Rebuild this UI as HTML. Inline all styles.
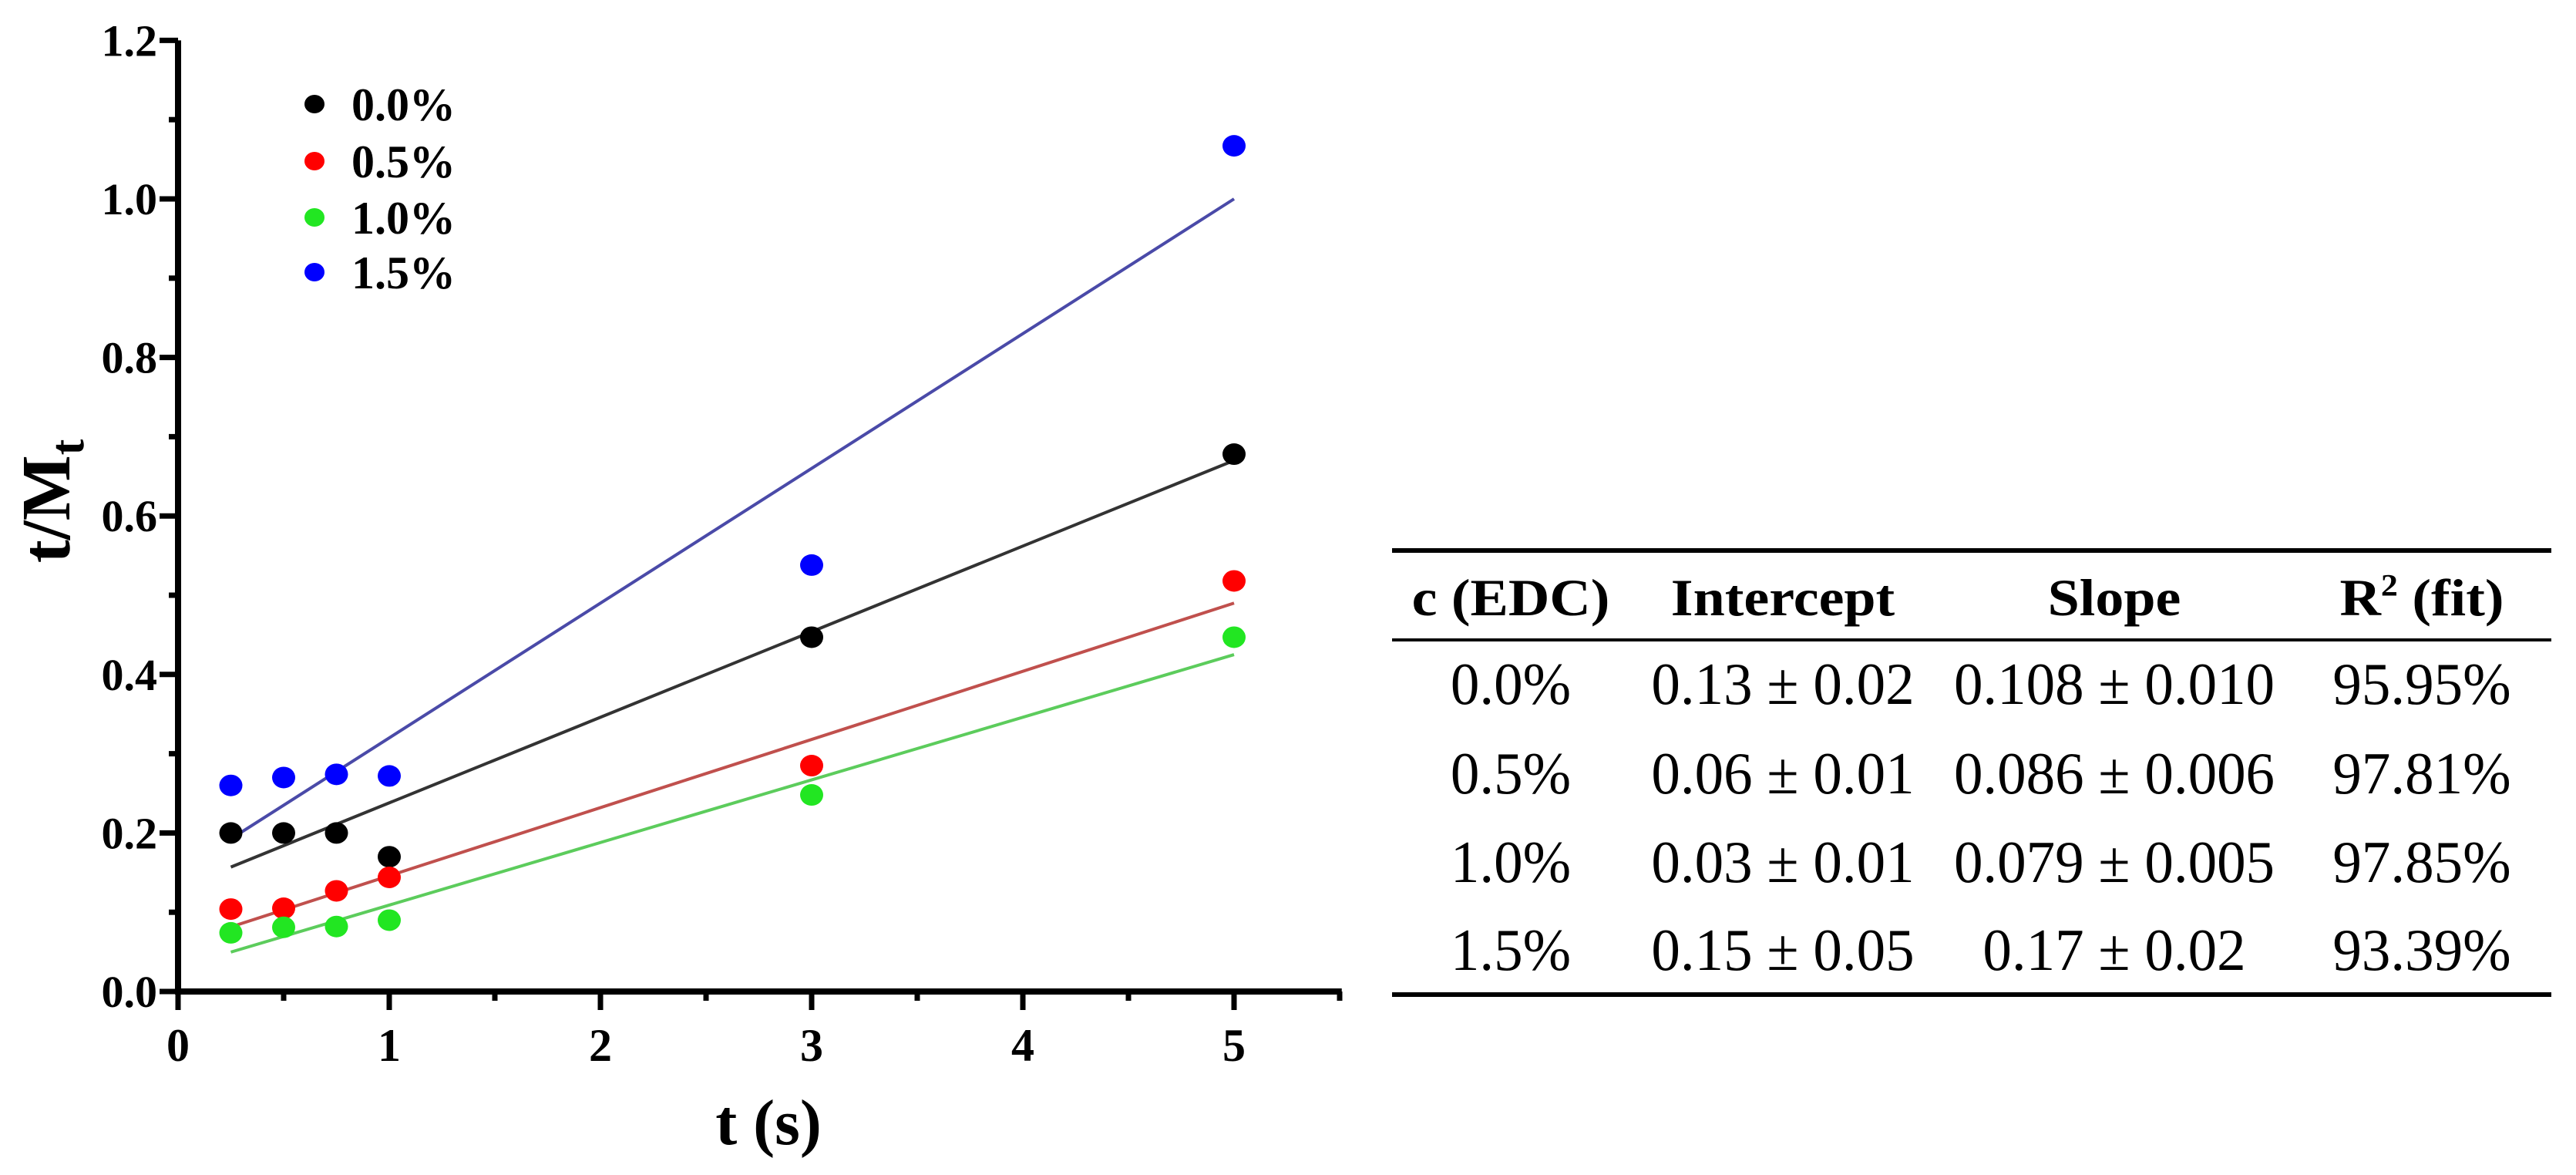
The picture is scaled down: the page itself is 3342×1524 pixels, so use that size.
<!DOCTYPE html>
<html><head><meta charset="utf-8"><style>
html,body{margin:0;padding:0;background:#fff;width:3342px;height:1524px;overflow:hidden}
svg{display:block}
</style></head><body>
<svg id="chart" width="3342" height="1524" viewBox="0 0 3342 1524" xmlns="http://www.w3.org/2000/svg">
<g id="plot"></g>
<g id="table" font-family="'Liberation Serif', serif" fill="#000">
  <rect x="1806" y="711" width="1504" height="6"/>
  <rect x="1806" y="828" width="1504" height="4"/>
  <rect x="1806" y="1287" width="1504" height="6"/>
  <g font-weight="bold" font-size="74" text-anchor="middle">
    <text transform="translate(1960 798) scale(1 0.92)" x="0" y="0">c (EDC)</text>
    <text transform="translate(2313 798) scale(1 0.92)" x="0" y="0">Intercept</text>
    <text transform="translate(2743 798) scale(1 0.92)" x="0" y="0">Slope</text>
    <text transform="translate(3142 798) scale(1 0.92)" x="0" y="0">R<tspan font-size="44" dy="-28">2</tspan><tspan dy="28"> (fit)</tspan></text>
  </g>
  <g id="tbody" font-size="75" text-anchor="middle"></g>
</g>
</svg>
<script>
const xValues = [0.25, 0.5, 0.75, 1, 3, 5];
const seriesNames = ["0.0%", "0.5%", "1.0%", "1.5%"];
const series00 = [0.200, 0.200, 0.200, 0.170, 0.447, 0.678];
const series05 = [0.104, 0.105, 0.127, 0.144, 0.285, 0.518];
const series10 = [0.074, 0.081, 0.082, 0.090, 0.248, 0.447];
const series15 = [0.260, 0.270, 0.274, 0.272, 0.538, 1.067];
const intercepts = [0.13, 0.06, 0.03, 0.15];
const slopes = [0.108, 0.086, 0.079, 0.17];
const yTicks = ["0.0", "0.2", "0.4", "0.6", "0.8", "1.0", "1.2"];
const xTicks = ["0", "1", "2", "3", "4", "5"];
const tableC = ["0.0%", "0.5%", "1.0%", "1.5%"];
const tableIntercept = ["0.13 ± 0.02", "0.06 ± 0.01", "0.03 ± 0.01", "0.15 ± 0.05"];
const tableSlope = ["0.108 ± 0.010", "0.086 ± 0.006", "0.079 ± 0.005", "0.17 ± 0.02"];
const tableR2 = ["95.95%", "97.81%", "97.85%", "93.39%"];

const NS = "http://www.w3.org/2000/svg";
const X0 = 231, XS = 274, Y0 = 1286, YS = 1028;
const xp = v => X0 + v * XS;
const yp = v => Y0 - v * YS;
const plot = document.getElementById('plot');
function mk(tag, attrs, parent) {
  const e = document.createElementNS(NS, tag);
  for (const k in attrs) e.setAttribute(k, attrs[k]);
  (parent || plot).appendChild(e);
  return e;
}
const dotColors = ["#000000", "#ff0000", "#22e622", "#0000ff"];
const lineColors = ["#333333", "#c0504d", "#5ccc5c", "#4a4aa8"];
const allSeries = [series00, series05, series10, series15];

allSeries.forEach((s, i) => {
  const xa = xValues[0], xb = xValues[xValues.length - 1];
  const l = mk('line', {x1: xp(xa), y1: yp(intercepts[i] + slopes[i] * xa), x2: xp(xb), y2: yp(intercepts[i] + slopes[i] * xb), stroke: lineColors[i], 'stroke-width': 4});
  
  
});
allSeries.forEach((s, i) => {
  s.forEach((v, j) => {
    const c = mk('ellipse', {cx: xp(xValues[j]), cy: yp(v), rx: 15, ry: 14, fill: dotColors[i]});
    
    
  });
});
const ax = mk('path', {d: `M${xp(0)} ${yp(1.2)} V${Y0} H${xp(5.51)}`, stroke: '#000', 'stroke-width': 8, fill: 'none'});


for (let k = 0; k <= 12; k++) {
  const v = k * 0.1, major = k % 2 === 0;
  const t = mk('line', {x1: X0 - (major ? 24 : 12), y1: yp(v), x2: X0, y2: yp(v), stroke: '#000', 'stroke-width': 7});
  
  
}
yTicks.forEach(lab => {
  const t = mk('text', {x: 204, y: yp(parseFloat(lab)) + 20, 'font-family': "'Liberation Serif', serif", 'font-weight': 'bold', 'font-size': 58, 'text-anchor': 'end'});
  t.textContent = lab;
  
  
});
for (let k = 0; k <= 11; k++) {
  const v = k * 0.5, major = k % 2 === 0;
  const t = mk('line', {x1: xp(v), y1: Y0, x2: xp(v), y2: Y0 + (major ? 24 : 12), stroke: '#000', 'stroke-width': 7});
  
  
}
xTicks.forEach(lab => {
  const t = mk('text', {x: xp(parseFloat(lab)), y: 1376, 'font-family': "'Liberation Serif', serif", 'font-weight': 'bold', 'font-size': 60, 'text-anchor': 'middle'});
  t.textContent = lab;
  
  
});
const xt = mk('text', {x: 997, y: 1484, 'font-family': "'Liberation Serif', serif", 'font-weight': 'bold', 'font-size': 84, 'text-anchor': 'middle'});
xt.textContent = 't (s)';


const yt = mk('text', {x: 0, y: 0, transform: 'translate(90 650) rotate(-90)', 'font-family': "'Liberation Serif', serif", 'font-weight': 'bold', 'font-size': 90, 'text-anchor': 'middle'});
yt.innerHTML = 't/M<tspan font-size="62" dy="18">t</tspan>';


const legY = [135, 209, 282, 353];
seriesNames.forEach((n, i) => {
  const g = mk('g', {});
  
  
  mk('ellipse', {cx: 408, cy: legY[i], rx: 13, ry: 12, fill: dotColors[i]}, g);
  const t = mk('text', {x: 456, y: legY[i] + 21, 'font-family': "'Liberation Serif', serif", 'font-weight': 'bold', 'font-size': 60}, g);
  t.textContent = n;
});
const tbody = document.getElementById('tbody');
const rowY = [913, 1029, 1144, 1258];
const colX = [1960, 2313, 2743, 3142];
[tableC, tableIntercept, tableSlope, tableR2].forEach((col, ci) => {
  col.forEach((txt, ri) => {
    const t = mk('text', {x: 0, y: 0, transform: `translate(${colX[ci]} ${rowY[ri]}) scale(1 1.03)`}, tbody);
    t.textContent = txt;
    
    
  });
});
</script>
</body></html>
